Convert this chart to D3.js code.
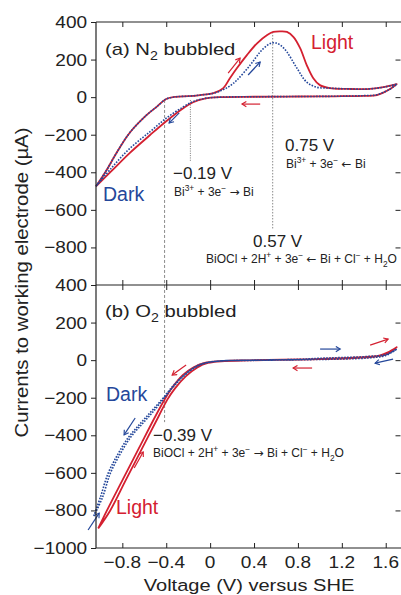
<!DOCTYPE html>
<html><head><meta charset="utf-8">
<script src="https://cdn.jsdelivr.net/npm/d3@7"></script>
<style>
body{margin:0;background:#fff}
svg{display:block}
text{font-family:"Liberation Sans",Arial,Helvetica,sans-serif}
</style>
</head><body>
<svg id="chart" width="401" height="595"></svg>
<script>
// ---------- tick labels ----------
const xTicks = [-0.8, -0.4, 0, 0.4, 0.8, 1.2, 1.6];
const yTicksA = [-800, -600, -400, -200, 0, 200, 400];
const yTicksB = [-1000, -800, -600, -400, -200, 0, 200, 400];

// ---------- (a) N2 bubbled ----------
const aLightFwdV = [-1.04,-0.95,-0.855,-0.736,-0.58,-0.49,-0.4,-0.31,-0.2,-0.09,0.03,0.12,0.18,0.245,0.335,0.43,0.52,0.575,0.64,0.7,0.76,0.82,0.88,0.94,1.0,1.09,1.25,1.43,1.58,1.7];
const aLightFwdI = [-475,-395,-299,-192,-96,-53,-10,2,5,11,21,48,101,155,224,288,331,347,350,347,320,261,171,101,64,48,44,43,53,69];
const aLightRevV = [1.7,1.64,1.52,1.4,1.2,1.0,0.7,0.4,0.1,-0.05,-0.155,-0.245,-0.4,-0.55,-0.736,-0.9,-1.04];
const aLightRevI = [69,43,11,7,5,4,3,2,0,-8,-27,-59,-128,-203,-299,-394,-475];

const aDarkFwdV = [-1.04,-0.95,-0.855,-0.736,-0.58,-0.49,-0.4,-0.31,-0.2,-0.09,0.03,0.12,0.18,0.245,0.365,0.455,0.52,0.56,0.6,0.64,0.7,0.79,0.88,0.97,1.09,1.25,1.43,1.58,1.7];
const aDarkFwdI = [-475,-395,-299,-192,-96,-53,-10,2,5,11,21,40,60,91,171,240,276,288,288,277,240,155,80,53,48,44,43,53,69];
const aDarkRevV = [1.7,1.64,1.52,1.4,1.2,1.0,0.7,0.4,0.1,-0.05,-0.155,-0.245,-0.4,-0.55,-0.736,-0.9,-1.04];
const aDarkRevI = [69,43,13,8,5,4,3,2,0,-7,-24,-52,-112,-185,-275,-378,-475];

// ---------- (b) O2 bubbled ----------
const bLightFwdV = [-1.02,-0.91,-0.77,-0.62,-0.47,-0.39,-0.32,-0.22,-0.12,-0.02,0.12,0.36,0.82,1.0,1.27,1.45,1.55,1.62,1.7];
const bLightFwdI = [-896,-800,-640,-470,-300,-210,-150,-85,-40,-15,-5,-1,3,6,12,18,26,42,69];
const bLightRevV = [1.7,1.62,1.52,1.27,0.82,0.36,0.1,-0.05,-0.15,-0.25,-0.35,-0.42,-0.5,-0.65,-0.8,-0.94,-1.02];
const bLightRevI = [69,35,20,10,4,-1,-6,-15,-38,-80,-150,-215,-300,-470,-640,-800,-896];

const bDarkFwdV = [-1.06,-0.98,-0.91,-0.82,-0.725,-0.62,-0.52,-0.43,-0.34,-0.24,-0.14,-0.04,0.11,0.4,0.8,1.0,1.2,1.45,1.6,1.7];
const bDarkFwdI = [-830,-730,-603,-500,-411,-340,-275,-210,-145,-85,-40,-15,-4,0,4,10,14,20,30,59];
const bDarkRevV = [1.7,1.6,1.45,1.2,0.8,0.4,0.1,-0.05,-0.15,-0.25,-0.35,-0.44,-0.54,-0.64,-0.745,-0.84,-0.93,-1.0,-1.06];
const bDarkRevI = [59,25,12,6,2,-1,-4,-15,-40,-85,-145,-210,-275,-340,-411,-500,-603,-730,-830];

// ---------- annotation anchors (data coords) ----------
const peakV = 0.57, redoxA = -0.18, redoxB = -0.415;
// arrows: [V0, I0, V1, I1, colour]
const arrowsA = [[0.164,128,0.273,208,"r"],[0.346,118,0.456,187,"b"],[0.456,-37,0.29,-37,"r"],[-0.282,-84,-0.374,-138,"b"]];
const arrowsB = [[-0.219,-26,-0.346,-79,"r"],[-0.683,-308,-0.784,-398,"b"],[-0.692,-574,-0.61,-489,"r"],[-1.112,-904,-1.011,-814,"b"],
                 [1.002,59,1.185,59,"b"],[0.929,-42,0.756,-42,"r"],[1.458,80,1.622,112,"r"],[1.667,5,1.503,-16,"b"]];

// ---------- setup ----------
const RED = "#d42030", BLUE = "#24479a", INK = "#222";
const svg = d3.select("#chart");
const x = d3.scaleLinear().domain([-1.04, 1.73]).range([96, 400]);
const yA = d3.scaleLinear().domain([-1000, 400]).range([285, 22]);
const yB = d3.scaleLinear().domain([-1000, 400]).range([548, 285]);

const defs = svg.append("defs");
[["r",RED],["b",BLUE]].forEach(([k,c]) => {
  defs.append("marker").attr("id","ah"+k).attr("viewBox","-6 -4 8 8")
    .attr("markerWidth",7).attr("markerHeight",7).attr("markerUnits","userSpaceOnUse")
    .attr("orient","auto").attr("refX",0).attr("refY",0)
    .append("path").attr("d","M-5,-3 L0,0 L-5,3").attr("fill","none")
    .attr("stroke",c).attr("stroke-width",1.3);
});

function rich(g, px, py, segs, size, opt) {
  opt = opt || {};
  let tr = `translate(${px},${py})`;
  if (opt.rot) tr += ` rotate(${opt.rot})`;
  if (opt.sx) tr += ` scale(${opt.sx},1)`;
  const t = g.append("text").attr("transform", tr).attr("font-size", size)
    .attr("fill", opt.fill || INK).attr("text-anchor", opt.anchor || "start");
  let cur = 0;
  segs.forEach(s => {
    const [str, k] = Array.isArray(s) ? s : [s, null];
    const off = k === "sub" ? size * 0.32 : k === "sup" ? -size * 0.42 : 0;
    const ts = t.append("tspan").text(str).attr("dy", off - cur)
      .attr("font-size", (k === "sub" || k === "sup") ? size * 0.7 : size);
    if (k === "arrow") ts.attr("font-family", "'DejaVu Sans',sans-serif");
    cur = off;
  });
  return t;
}

function panel(y, tickVals, series, arrows) {
  const g = svg.append("g");
  const la = g.append("g").attr("transform","translate(96,0)")
    .call(d3.axisLeft(y).tickValues(tickVals).tickSize(5).tickPadding(3).tickFormat(d3.format("d")));
  la.select(".domain").remove();
  la.selectAll("line").attr("stroke", INK);
  la.selectAll("text").attr("font-size",17).attr("fill",INK)
    .attr("font-family","'Liberation Sans',Arial,sans-serif")
    .attr("transform","scale(1.12,1)");
  const ra = g.append("g").attr("transform","translate(400.5,0)")
    .call(d3.axisRight(y).tickValues(tickVals.filter(v => v < 400 && v > -1000)).tickSize(-5).tickFormat(""));
  ra.select(".domain").remove();
  ra.selectAll("line").attr("stroke", INK);
  const [y0, y1] = y.range();
  const ta = g.append("g").attr("transform",`translate(0,${y1})`)
    .call(d3.axisTop(x).tickValues(xTicks).tickSize(-5).tickFormat(""));
  ta.select(".domain").remove(); ta.selectAll("line").attr("stroke",INK);
  const ba = g.append("g").attr("transform",`translate(0,${y0})`)
    .call(d3.axisBottom(x).tickValues(xTicks).tickSize(-5).tickFormat(""));
  ba.select(".domain").remove(); ba.selectAll("line").attr("stroke",INK);

  const line = d3.line().x(d => x(d[0])).y(d => y(d[1])).curve(d3.curveCatmullRom.alpha(0.5));
  series.forEach(s => {
    const pts = s.V.map((v,i) => [v, s.I[i]]);
    const p = g.append("path").datum(pts).attr("d", line).attr("fill","none")
      .attr("stroke", s.c).attr("stroke-width", s.w).attr("stroke-linejoin","round");
    if (s.dash) p.attr("stroke-dasharray", s.dash);
  });
  arrows.forEach(a => {
    g.append("line").attr("x1",x(a[0])).attr("y1",y(a[1])).attr("x2",x(a[2])).attr("y2",y(a[3]))
      .attr("stroke", a[4]==="r"?RED:BLUE).attr("stroke-width",1.2)
      .attr("marker-end",`url(#ah${a[4]})`);
  });
  return g;
}

// reference lines (behind curves)
const refG = svg.append("g");
refG.append("line").attr("x1",x(peakV)).attr("x2",x(peakV)).attr("y1",yA(347)).attr("y2",yA(-707))
  .attr("stroke","#8a8a8a").attr("stroke-width",1).attr("stroke-dasharray","1.5,1.5");
refG.append("line").attr("x1",x(redoxA)).attr("x2",x(redoxA)).attr("y1",yA(-15)).attr("y2",yA(-345))
  .attr("stroke","#555").attr("stroke-width",0.8).attr("stroke-dasharray","1,1.3");
refG.append("line").attr("x1",x(redoxB)).attr("x2",x(redoxB)).attr("y1",yA(-15)).attr("y2",yB(-330))
  .attr("stroke","#8a8a8a").attr("stroke-width",1).attr("stroke-dasharray","3,2");

panel(yA, yTicksA, [
  {V: aLightFwdV.concat(aLightRevV), I: aLightFwdI.concat(aLightRevI), c: RED, w: 1.8},
  {V: aDarkFwdV.concat(aDarkRevV), I: aDarkFwdI.concat(aDarkRevI), c: BLUE, w: 1.6, dash: "1.6,1.4"}
], arrowsA);
panel(yB, yTicksB, [
  {V: bLightFwdV.concat(bLightRevV), I: bLightFwdI.concat(bLightRevI), c: RED, w: 1.8},
  {V: bDarkFwdV.concat(bDarkRevV), I: bDarkFwdI.concat(bDarkRevI), c: BLUE, w: 1.6, dash: "1.6,1.4"}
], arrowsB);

// frame lines
const fr = svg.append("g").attr("stroke", INK).attr("stroke-width", 1.2);
fr.append("line").attr("x1",96).attr("x2",96).attr("y1",yA.range()[1]).attr("y2",yB.range()[0]);
[yA.range()[1], yA.range()[0], yB.range()[0]].forEach(yy =>
  fr.append("line").attr("x1",96).attr("x2",401).attr("y1",yy).attr("y2",yy));

// x tick labels
const xa = svg.append("g").attr("transform",`translate(0,${yB.range()[0]})`)
  .call(d3.axisBottom(x).tickValues(xTicks).tickSize(0).tickPadding(8).tickFormat(d => d === 0 ? "0" : d3.format(".1f")(d)));
xa.select(".domain").remove();
xa.selectAll("text").attr("font-size",17).attr("fill",INK)
  .attr("font-family","'Liberation Sans',Arial,sans-serif").attr("transform","scale(1.12,1)")
  .each(function(d){ d3.select(this.parentNode).attr("transform",`translate(${x(d)},0)`); });

// axis titles
rich(svg, 249, 591, ["Voltage (V) versus SHE"], 17, {anchor:"middle", sx:1.18});
rich(svg, 28, 282.5, ["Currents to working electrode (\u00B5A)"], 18, {anchor:"middle", rot:-90, sx:1.13});

// panel (a) annotations
rich(svg, 105, 55, ["(a) N", ["2","sub"], " bubbled"], 17, {sx:1.19});
rich(svg, 311, 49, ["Light"], 19.5, {fill:RED});
rich(svg, 103, 201, ["Dark"], 19.5, {fill:BLUE});
rich(svg, 173, 179, ["\u22120.19 V"], 17);
rich(svg, 174, 196, ["Bi", ["3+","sup"], " + 3e", ["\u2212","sup"], " ", ["\u2192","arrow"], " Bi"], 12);
rich(svg, 285, 151, ["0.75 V"], 17);
rich(svg, 286, 168, ["Bi", ["3+","sup"], " + 3e", ["\u2212","sup"], " ", ["\u2190","arrow"], " Bi"], 12);
rich(svg, 253, 247, ["0.57 V"], 17);
rich(svg, 206, 263, ["BiOCl + 2H", ["+","sup"], " + 3e", ["\u2212","sup"], " ", ["\u2190","arrow"], " Bi + Cl", ["\u2212","sup"], " + H", ["2","sub"], "O"], 12);

// panel (b) annotations
rich(svg, 105, 317, ["(b) O", ["2","sub"], " bubbled"], 17, {sx:1.19});
rich(svg, 106, 401, ["Dark"], 19.5, {fill:BLUE});
rich(svg, 116, 514, ["Light"], 19.5, {fill:RED});
rich(svg, 153, 441, ["\u22120.39 V"], 17);
rich(svg, 153, 457, ["BiOCl + 2H", ["+","sup"], " + 3e", ["\u2212","sup"], " ", ["\u2192","arrow"], " Bi + Cl", ["\u2212","sup"], " + H", ["2","sub"], "O"], 12);
</script>
</body></html>
